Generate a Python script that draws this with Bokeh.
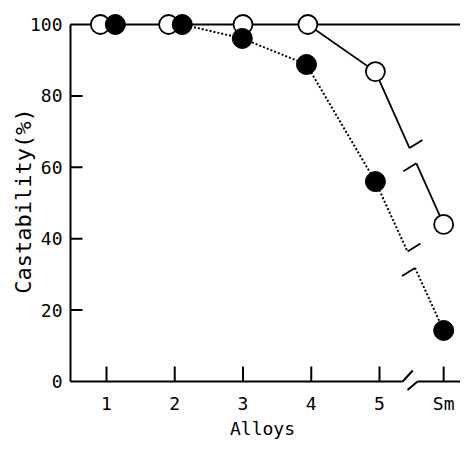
from bokeh.plotting import figure
from bokeh.models import Range1d, FixedTicker, CustomJSTickFormatter
from bokeh.embed import file_html
from bokeh.resources import INLINE

# ---- data ----
alloys = ["1", "2", "3", "4", "5", "Sm"]
alloy_pos = [1, 2, 3, 4, 5, 5.94]
open_vals = [100, 100, 100, 100, 86.8, 44.0]
filled_vals = [100, 100, 96.1, 88.8, 56.0, 14.3]
y_ticks = [0, 20, 40, 60, 80, 100]

# ---- style constants (small horizontal shifts so overlapping markers show) ----
open_shift = [-0.09, -0.09, 0.0, -0.05, -0.06, 0.0]
filled_shift = [0.13, 0.11, -0.01, -0.07, -0.06, 0.0]

W, H = 460, 442
BL, BR, BT, BB = 64, 0, 10, 51
FW, FH = W - BL - BR, H - BT - BB
X0, X1 = 1 - 42 / 68.25, 1 + 354 / 68.25
Y0, Y1 = -10 / 3.57, 100 + 14 / 3.57
PX = FW / (X1 - X0)      # px per x unit
PY = FH / (Y1 - Y0)      # px per y unit
AXIS_X = 1 - 36 / PX     # position of the drawn y axis line

FONT = "DejaVu Sans Mono"

p = figure(width=W, height=H, x_range=Range1d(X0, X1), y_range=Range1d(Y0, Y1),
           output_backend="svg", toolbar_location=None,
           min_border_left=BL, min_border_right=BR, min_border_top=BT, min_border_bottom=BB)
p.outline_line_color = None
p.xgrid.visible = False
p.ygrid.visible = False
p.background_fill_color = "white"
p.border_fill_color = "white"

ox = [a + s for a, s in zip(alloy_pos, open_shift)]
fx = [a + s for a, s in zip(alloy_pos, filled_shift)]

LW = 1.8
# top line at 100 running across
p.segment(x0=[AXIS_X], y0=[y_ticks[-1]], x1=[X1], y1=[y_ticks[-1]], line_color="black", line_width=LW)

def break_pts(xa, ya, xb, yb, t1, t2):
    b1 = (xa + (xb - xa) * t1, ya + (yb - ya) * t1)
    b2 = (xa + (xb - xa) * t2, ya + (yb - ya) * t2)
    return b1, b2

mx, my = 13 / PX, 8 / PY

# open series (solid)
b1, b2 = break_pts(ox[4], open_vals[4], ox[5], open_vals[5], 0.50, 0.60)
p.line([ox[3], ox[4], b1[0]], [open_vals[3], open_vals[4], b1[1]], line_color="black", line_width=LW)
p.line([b2[0], ox[5]], [b2[1], open_vals[5]], line_color="black", line_width=LW)
p.segment(x0=[b1[0], b2[0] - mx], y0=[b1[1], b2[1] - my], x1=[b1[0] + mx, b2[0]], y1=[b1[1] + my, b2[1]],
          line_color="black", line_width=LW)

# filled series (dotted)
c1, c2 = break_pts(fx[4], filled_vals[4], fx[5], filled_vals[5], 0.47, 0.58)
p.line(fx[1:5] + [c1[0]], filled_vals[1:5] + [c1[1]], line_color="black", line_width=2, line_dash="2 2")
p.line([c2[0], fx[5]], [c2[1], filled_vals[5]], line_color="black", line_width=2, line_dash="2 2")
p.segment(x0=[c1[0], c2[0] - mx], y0=[c1[1], c2[1] - my], x1=[c1[0] + mx, c2[0]], y1=[c1[1] + my, c2[1]],
          line_color="black", line_width=LW)

# axes lines drawn by hand (x axis has a break)
xb1, xb2 = 5.34, 5.557
p.segment(x0=[AXIS_X, xb1, xb2 - 10 / PX, xb2, AXIS_X],
          y0=[0, 0, -8.5 / PY, 0, 0],
          x1=[xb1, xb1 + 10 / PX, xb2, X1, AXIS_X],
          y1=[0, 11 / PY, 0, 0, y_ticks[-1]],
          line_color="black", line_width=2)
# inward ticks
p.segment(x0=alloy_pos, y0=[0] * len(alloy_pos), x1=alloy_pos, y1=[15 / PY] * len(alloy_pos),
          line_color="black", line_width=2)
yt = y_ticks[1:-1]
p.segment(x0=[AXIS_X] * len(yt), y0=yt, x1=[AXIS_X + 12 / PX] * len(yt), y1=yt,
          line_color="black", line_width=2)

# markers
p.scatter(ox, open_vals, marker="circle", size=19, fill_color="white", line_color="black", line_width=1.8)
p.scatter(fx, filled_vals, marker="circle", size=20, fill_color="black", line_color="black")

# axes (labels only)
for ax in (p.xaxis[0], p.yaxis[0]):
    ax.axis_line_color = None
    ax.major_tick_line_color = None
    ax.minor_tick_line_color = None
    ax.major_tick_out = 0
    ax.major_tick_in = 0
    ax.major_label_text_font = FONT
    ax.major_label_text_font_size = "18px"
    ax.major_label_text_color = "black"
    ax.axis_label_text_font = FONT
    ax.axis_label_text_font_style = "normal"
    ax.axis_label_text_color = "black"

p.xaxis.ticker = FixedTicker(ticks=alloy_pos)
p.xaxis.formatter = CustomJSTickFormatter(args=dict(pos=alloy_pos, labels=alloys), code="""
const i = pos.findIndex(v => Math.abs(v - tick) < 1e-6);
return i >= 0 ? labels[i] : '';
""")
p.xaxis.axis_label = "Alloys"
p.xaxis.axis_label_text_font_size = "18px"
p.xaxis.major_label_standoff = 1
p.xaxis.axis_label_standoff = 1

p.yaxis.ticker = FixedTicker(ticks=y_ticks)
p.yaxis.axis_label = "Castability(%)"
p.yaxis.axis_label_text_font_size = "22px"
p.yaxis.major_label_standoff = 2
p.yaxis.axis_label_standoff = -9

open("out.html", "w").write(file_html(p, INLINE))
